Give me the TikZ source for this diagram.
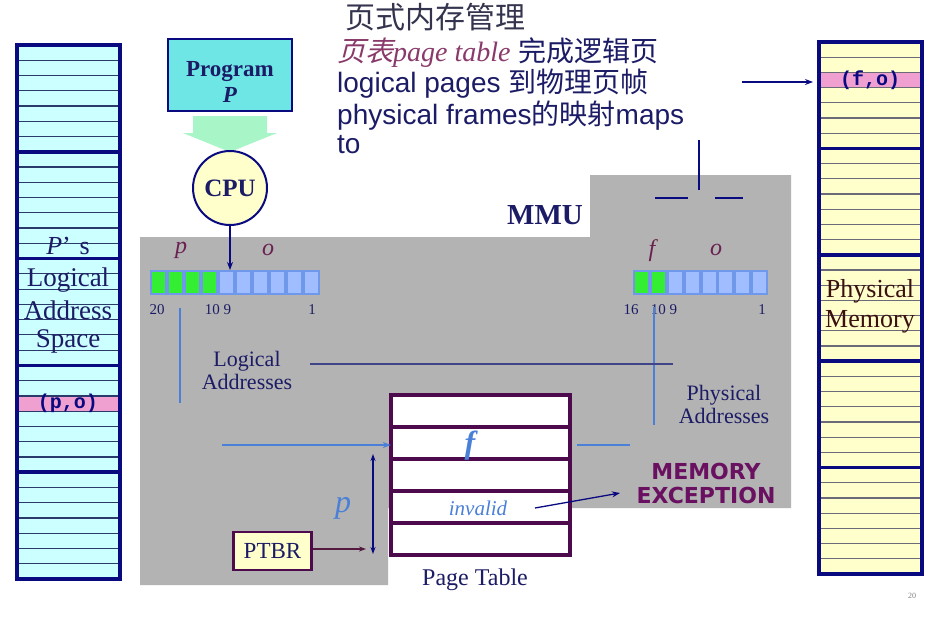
\documentclass[tikz,border=0pt]{standalone}
\usepackage{fontspec}
\setmainfont{Liberation Serif}
\setsansfont{Liberation Sans}
\setmonofont{Liberation Mono}
\newfontfamily\cjk{Noto Sans CJK SC}
\newfontfamily\cjkit[FakeSlant=0.25]{Noto Sans CJK SC}
\newfontfamily\dvs{DejaVu Sans}
\usetikzlibrary{arrows.meta}
\definecolor{mmugrey}{HTML}{B3B3B3}
\definecolor{navy}{HTML}{0A0A80}
\definecolor{txtnavy}{HTML}{1C1C66}
\definecolor{cyanfill}{HTML}{CCFFFF}
\definecolor{yelfill}{HTML}{FFFFCC}
\definecolor{pinkrow}{HTML}{F0A0D0}
\definecolor{rowdark}{HTML}{2A3A6A}
\definecolor{rowgrey}{HTML}{6A6A78}
\definecolor{progfill}{HTML}{6EE6E6}
\definecolor{mint}{HTML}{A8F5C8}
\definecolor{reggreen}{HTML}{33EE33}
\definecolor{regblue}{HTML}{A0BEFF}
\definecolor{regedge}{HTML}{7098EA}
\definecolor{ptpurple}{HTML}{4D0A4D}
\definecolor{maroon}{HTML}{6A2050}
\definecolor{lineblue}{HTML}{4A80D8}
\definecolor{slate}{HTML}{404488}
\definecolor{excpurple}{HTML}{6A1060}
\definecolor{memtxt}{HTML}{3A1010}
\definecolor{topgrey}{HTML}{34344E}
\definecolor{pinktxt}{HTML}{8A3A6A}
\newcommand\myfs[1]{\fontsize{#1}{#1}\selectfont}
\begin{document}
\begin{tikzpicture}[x=1pt,y=-1pt,
  lbl/.style={inner sep=0pt, text=txtnavy},
  arr/.style={-{Stealth[length=8pt,width=6pt]}, line width=1.3pt, draw=navy},
  bluearr/.style={-{Stealth[length=8pt,width=6pt]}, line width=1.3pt, draw=lineblue},
  bline/.style={line width=1.6pt, draw=lineblue},
  ptrow/.style={minimum width=179pt, minimum height=32pt, inner sep=0pt},
]
\useasboundingbox (0,0) rectangle (942,630);
\fill[white] (0,0) rectangle (942,630);
% MMU grey area
\fill[mmugrey] (140,237) -- (590,237) -- (590,175) -- (791,175) -- (791,508) -- (388,508) -- (388,585) -- (140,585) -- cycle;

% left memory column
\fill[cyanfill] (17,45) rectangle (120,579);
\fill[pinkrow] (17,{45+23*15.2571}) rectangle (120,{45+24*15.2571});
\foreach \i in {1,...,34}{\draw[line width=1.2pt, draw=rowdark] (17,{45+\i*15.2571}) -- (120,{45+\i*15.2571});}
\foreach \i in {7,14,21,28}{\draw[line width=3.5pt, draw=navy] (17,{45+\i*15.2571}) -- (120,{45+\i*15.2571});}
\draw[line width=4pt, draw=navy] (17,45) rectangle (120,579);
\node[lbl, text=txtnavy, font=\myfs{26}] (ps) at (68,246) {\textit{P}'\,\,s};
\node[lbl, font=\myfs{27}] (lg) at (68,280) {Logical};
\node[lbl, font=\myfs{27}] (ad) at (68,310) {Address};
\node[lbl, font=\myfs{27}] (sp) at (68,341) {Space};
\node[lbl, text=navy, font=\ttfamily\bfseries\myfs{20}] (po) at (68,403) {(p,o)};

% right memory column
\fill[yelfill] (819,42) rectangle (922,574);
\fill[pinkrow] (819,{42+2*15.2}) rectangle (922,{42+3*15.2});
\foreach \i in {1,...,34}{\draw[line width=1.2pt, draw=rowgrey] (819,{42+\i*15.2}) -- (922,{42+\i*15.2});}
\foreach \i in {7,14,21,28}{\draw[line width=3.5pt, draw=navy] (819,{42+\i*15.2}) -- (922,{42+\i*15.2});}
\draw[line width=4pt, draw=navy] (819,42) rectangle (922,574);
\node[lbl, text=navy, font=\ttfamily\bfseries\myfs{20}] (fo) at (870,80) {(f,o)};
\node[lbl, text=memtxt, font=\myfs{26}] (phm) at (870,291) {Physical};
\node[lbl, text=memtxt, font=\myfs{26}] (mem) at (870,322) {Memory};

% Program, arrow, CPU
\node[draw=navy, line width=2pt, fill=progfill, minimum width=124pt, minimum height=72pt, inner sep=0pt] (prog) at (230,75) {};
\node[lbl, align=center, font=\bfseries\fontsize{23}{26}\selectfont] (progtxt) at (230,82) {Program\\\textit{P}};
\fill[mint] (193,116) -- (267,116) -- (267,133) -- (277,133) -- (230,152) -- (183,133) -- (193,133) -- cycle;
\node[circle, draw=navy, line width=2pt, fill=yelfill, minimum size=74pt, inner sep=0pt, text=txtnavy, font=\bfseries\myfs{25}] (cpu) at (230,188) {CPU};

% registers
\fill[regedge] (150,270) rectangle (320,295);
\foreach \i in {0,...,3}{\fill[reggreen] ({152+17*\i},272) rectangle ({165+17*\i},293);}
\foreach \i in {4,...,9}{\fill[regblue] ({152+17*\i},272) rectangle ({165+17*\i},293);}
\coordinate (lregtop) at (230,270);
\node[lbl, text=maroon, font=\itshape\myfs{24}] (lp) at (181,250) {p};
\node[lbl, text=maroon, font=\itshape\myfs{24}] (lo) at (268,250) {o};
\node[lbl, font=\myfs{15}] (n20) at (157,310) {20};
\node[lbl, font=\myfs{15}] (n109) at (218,310) {10 9};
\node[lbl, font=\myfs{15}] (n1) at (312,310) {1};

\fill[regedge] (633,270) rectangle (768,295);
\foreach \i in {0,1}{\fill[reggreen] ({635+16.875*\i},272) rectangle ({648+16.875*\i},293);}
\foreach \i in {2,...,7}{\fill[regblue] ({635+16.875*\i},272) rectangle ({648+16.875*\i},293);}
\node[lbl, text=maroon, font=\itshape\myfs{24}] (rf) at (652,251) {f};
\node[lbl, text=maroon, font=\itshape\myfs{24}] (ro) at (716,250) {o};
\node[lbl, font=\myfs{15}] (n16) at (631,310) {16};
\node[lbl, font=\myfs{15}] (n109b) at (664,310) {10 9};
\node[lbl, font=\myfs{15}] (n1b) at (762,310) {1};

\draw[arr] (cpu.south) -- (lregtop);

% MMU label
\node[lbl, font=\bfseries\myfs{29}] (mmu) at (545,215) {MMU};

% address labels
\node[lbl, font=\myfs{22}, align=center] (la) at (247,370) {Logical\\[1pt]Addresses};
\node[lbl, font=\myfs{22}, align=center] (pa) at (724,404) {Physical\\[1pt]Addresses};

% page table
\fill[white] (391,395) rectangle (570,555);
\foreach \y in {427,459,491,523}{\draw[line width=4pt, draw=ptpurple] (391,\y) -- (570,\y);}
\draw[line width=4pt, draw=ptpurple] (391,395) rectangle (570,555);
\node[ptrow] (pt1) at (480.5,411) {};
\node[ptrow] (pt2) at (480.5,443) {};
\node[ptrow] (pt3) at (480.5,475) {};
\node[ptrow] (pt4) at (480.5,507) {};
\node[ptrow] (pt5) at (480.5,539) {};
\node[lbl, text=lineblue, font=\bfseries\itshape\myfs{32}] (ff) at (470,446) {f};
\node[lbl, text=lineblue, font=\itshape\myfs{21}] (inv) at (478,508) {invalid};
\node[lbl, font=\myfs{24}] (ptl) at (475,580) {Page Table};

% MEMORY EXCEPTION
\node[lbl, text=excpurple, font=\dvs\bfseries\myfs{22}, align=center] (mex) at (706,483) {MEMORY\\[2pt]EXCEPTION};

% PTBR
\node[draw=ptpurple, line width=2.5pt, fill=yelfill, minimum width=78pt, minimum height=38pt, inner sep=0pt, text=txtnavy, font=\myfs{23}] (ptbr) at (272.5,551) {PTBR};
\node[lbl, text=lineblue, font=\itshape\myfs{32}] (pp) at (343,508) {p};

% connectors
\coordinate (ptbrend) at (366,549);
\draw[-{Stealth[length=7pt,width=5pt]}, line width=1.6pt, draw=maroon!80!black] (ptbr.east |- ptbrend) -- (ptbrend);
\coordinate (dtop) at (373,454);
\coordinate (dbot) at (373,554);
\draw[{Stealth[length=7pt,width=5pt]}-{Stealth[length=7pt,width=5pt]}, line width=1.2pt, draw=navy] (dtop) -- (dbot);
\coordinate (lin) at (222,445);
\draw[bluearr] (lin) -- (lin -| pt2.west);
\coordinate (invtip) at (620,493);
\coordinate (invstart) at (535,508);
\draw[arr] (invstart) -- (invtip);

% remnant lines
\coordinate (lv1) at (180,308);
\coordinate (lv2) at (180,403);
\draw[bline] (lv1) -- (lv2);
\coordinate (rv1) at (654,307);
\coordinate (rv2) at (654,425);
\draw[bline] (rv1) -- (rv2);
\coordinate (h1) at (310,364);
\coordinate (h2) at (673,364);
\draw[line width=2.5pt, draw=slate] (h1) -- (h2);
\coordinate (s1) at (577,445);
\coordinate (s2) at (630,445);
\draw[bline] (s1) -- (s2);
\coordinate (tv1) at (699,140);
\coordinate (tv2) at (699,190);
\draw[line width=2pt, draw=navy] (tv1) -- (tv2);
\coordinate (th1) at (655,198);
\coordinate (th2) at (688,198);
\draw[line width=2pt, draw=navy] (th1) -- (th2);
\coordinate (th3) at (715,198);
\coordinate (th4) at (743,198);
\draw[line width=2pt, draw=navy] (th3) -- (th4);
\coordinate (fa) at (742,82);
\coordinate (fb) at (813,82);
\draw[arr] (fa) -- (fb);

% top text
\node[lbl, anchor=base west, text=topgrey, font=\cjk\myfs{30}] (t1) at (345,28) {页式内存管理};
\node[lbl, anchor=base west, font=\sffamily\myfs{28}] (t2) at (337,61) {\textcolor{pinktxt}{{\cjkit 页表}\textrm{\itshape page table}} {\cjk 完成逻辑页}};
\node[lbl, anchor=base west, font=\sffamily\myfs{28}] (t3) at (337,92) {logical pages {\cjk 到物理页帧}};
\node[lbl, anchor=base west, font=\sffamily\myfs{28}] (t4) at (337,124) {physical frames{\cjk 的映射}maps};
\node[lbl, anchor=base west, font=\sffamily\myfs{28}] (t5) at (337,153) {to};

\node[lbl, text=gray, font=\myfs{8}] (pg) at (912,596) {20};
\end{tikzpicture}
\end{document}
